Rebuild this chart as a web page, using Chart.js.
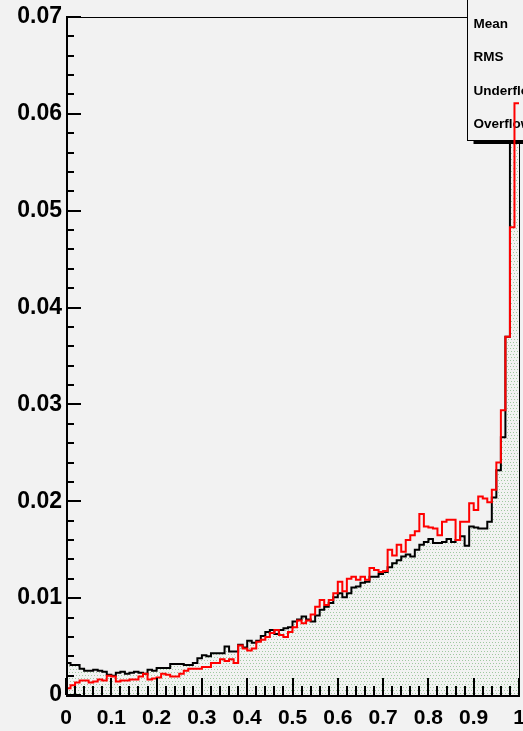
<!DOCTYPE html>
<html>
<head>
<meta charset="utf-8">
<script src="https://cdn.jsdelivr.net/npm/chart.js@4.4.1/dist/chart.umd.min.js"></script>
<style>
  html, body { margin: 0; padding: 0; background: #f2f2f2; }
  canvas { display: block; }
</style>
</head>
<body>
<canvas id="hist" width="523" height="731"></canvas>
<script>
// 100 equal bins on [0, 1]
const nBins = 100;
const binEdges = Array.from({ length: nBins + 1 }, (_, k) => k / nBins);

// Normalised bin contents, black (filled) histogram
const blackContents = [
  0.0033, 0.0031, 0.0031, 0.0027, 0.0025, 0.0025, 0.0026, 0.0025, 0.0024, 0.0021,
  0.0020, 0.0023, 0.0024, 0.0022, 0.0023, 0.0024, 0.0023, 0.0022, 0.0026, 0.0025,
  0.0028, 0.0028, 0.0028, 0.0032, 0.0032, 0.0032, 0.0031, 0.0031, 0.0033, 0.0038,
  0.0041, 0.0040, 0.0043, 0.0043, 0.0043, 0.0050, 0.0045, 0.0045, 0.0052, 0.0049,
  0.0056, 0.0054, 0.0056, 0.0061, 0.0065, 0.0067, 0.0063, 0.0067, 0.0069, 0.0070,
  0.0076, 0.0078, 0.0081, 0.0078, 0.0076, 0.0082, 0.0088, 0.0091, 0.0095, 0.0101,
  0.0105, 0.0101, 0.0105, 0.0111, 0.0112, 0.0116, 0.0117, 0.0122, 0.0122, 0.0125,
  0.0127, 0.0132, 0.0136, 0.0139, 0.0143, 0.0145, 0.0143, 0.0150, 0.0155, 0.0158,
  0.0161, 0.0157, 0.0157, 0.0158, 0.0161, 0.0158, 0.0160, 0.0164, 0.0154, 0.0174,
  0.0173, 0.0172, 0.0172, 0.0179, 0.0204, 0.0232, 0.0266, 0.0370, 0.0800, 0.0900
];

// Normalised bin contents, red histogram
const redContents = [
  0.0007, 0.0010, 0.0013, 0.0015, 0.0015, 0.0013, 0.0014, 0.0016, 0.0015, 0.0020,
  0.0019, 0.0014, 0.0015, 0.0015, 0.0016, 0.0016, 0.0019, 0.0022, 0.0016, 0.0017,
  0.0018, 0.0022, 0.0021, 0.0019, 0.0019, 0.0022, 0.0025, 0.0027, 0.0027, 0.0027,
  0.0029, 0.0029, 0.0033, 0.0033, 0.0037, 0.0035, 0.0037, 0.0033, 0.0051, 0.0048,
  0.0046, 0.0048, 0.0055, 0.0057, 0.0060, 0.0064, 0.0067, 0.0062, 0.0060, 0.0065,
  0.0070, 0.0077, 0.0074, 0.0077, 0.0083, 0.0091, 0.0098, 0.0093, 0.0098, 0.0105,
  0.0117, 0.0107, 0.0120, 0.0122, 0.0119, 0.0122, 0.0119, 0.0131, 0.0129, 0.0127,
  0.0128, 0.0150, 0.0144, 0.0155, 0.0148, 0.0160, 0.0165, 0.0169, 0.0187, 0.0174,
  0.0173, 0.0172, 0.0165, 0.0179, 0.0181, 0.0181, 0.0160, 0.0179, 0.0179, 0.0198,
  0.0191, 0.0205, 0.0203, 0.0199, 0.0212, 0.0240, 0.0294, 0.0370, 0.0483, 0.0611
];

// Axis tick values and their printed labels
const xTickValues = [0, 0.1, 0.2, 0.3, 0.4, 0.5, 0.6, 0.7, 0.8, 0.9, 1];
const xTickLabels = ['0', '0.1', '0.2', '0.3', '0.4', '0.5', '0.6', '0.7', '0.8', '0.9', '1'];
const yTickValues = [0, 0.01, 0.02, 0.03, 0.04, 0.05, 0.06, 0.07];
const yTickLabels = ['0', '0.01', '0.02', '0.03', '0.04', '0.05', '0.06', '0.07'];

// Statistics box entries
const statLabels = ['Mean', 'RMS', 'Underflow', 'Overflow'];

// Turn bin contents into step points at the low edge of each bin,
// closing with the upper edge of the last bin.
function stepPoints(contents) {
  const pts = contents.map((v, k) => ({ x: binEdges[k], y: v }));
  pts.push({ x: binEdges[nBins], y: contents[nBins - 1] });
  return pts;
}

// Sparse dotted fill used under the black histogram
function dotPattern() {
  const c = document.createElement('canvas');
  c.width = 6; c.height = 6;
  const g = c.getContext('2d');
  g.fillStyle = 'rgba(80,160,80,0.5)';
  [[0, 0], [3, 0], [1, 3], [4, 3]].forEach(([px, py]) => g.fillRect(px, py, 1, 1));
  return g.createPattern(c, 'repeat');
}

const FONT = '"Liberation Sans", Arial, Helvetica, sans-serif';

function drawStatBox(ctx) {
  // statistics box, running past the top and right canvas edges
  const bx = 467.5, by = -5, bw = 80, bh = 145.5;
  ctx.save();
  ctx.fillStyle = '#f2f2f2';
  ctx.fillRect(bx, by, bw, bh);
  ctx.strokeStyle = '#000';
  ctx.lineWidth = 1;
  ctx.strokeRect(bx, by, bw, bh);
  ctx.fillStyle = '#000';
  ctx.fillRect(bx + 6, by + bh + 0.5, bw, 3);
  ctx.font = 'bold 13.5px ' + FONT;
  ctx.textBaseline = 'alphabetic';
  ctx.textAlign = 'left';
  statLabels.forEach((t, i) => ctx.fillText(t, 473.5, 27.5 + i * 33.6));
  ctx.restore();
}

// Canvas background, frame, axes with inward ticks and the statistics box
const frameAndStats = {
  id: 'frameAndStats',
  beforeDraw(chart) {
    const ctx = chart.ctx;
    ctx.save();
    ctx.fillStyle = '#f2f2f2';
    ctx.fillRect(0, 0, chart.width, chart.height);
    ctx.restore();
  },
  // the box sits above the black histogram but below the red one
  beforeDatasetDraw(chart, args) {
    if (chart.data.datasets[args.index].label === 'red') drawStatBox(chart.ctx);
  },
  afterDatasetsDraw(chart) {
    const { ctx, chartArea: a, scales } = chart;
    const xs = scales.x, ys = scales.y;
    ctx.save();
    ctx.strokeStyle = '#000';

    // frame top (up to the box) and right
    ctx.lineWidth = 1;
    ctx.beginPath();
    ctx.moveTo(a.left, a.top + 0.5);
    ctx.lineTo(467.5, a.top + 0.5);
    ctx.moveTo(a.right + 0.5, 144);
    ctx.lineTo(a.right + 0.5, a.bottom);
    ctx.stroke();

    // axis lines
    ctx.lineWidth = 2;
    ctx.beginPath();
    ctx.moveTo(a.left + 1, a.top);
    ctx.lineTo(a.left + 1, a.bottom + 2);
    ctx.moveTo(a.left, a.bottom + 1);
    ctx.lineTo(a.right + 1, a.bottom + 1);
    ctx.stroke();

    // y ticks: majors at labelled values, four minors in between
    ctx.lineWidth = 2;
    ctx.beginPath();
    for (let i = 0; i < yTickValues.length; i++) {
      const v0 = yTickValues[i];
      const y = Math.round(ys.getPixelForValue(v0));
      ctx.moveTo(a.left, y); ctx.lineTo(a.left + 15, y);
      if (i + 1 < yTickValues.length) {
        const step = (yTickValues[i + 1] - v0) / 5;
        for (let m = 1; m < 5; m++) {
          const ym = Math.round(ys.getPixelForValue(v0 + m * step));
          ctx.moveTo(a.left, ym); ctx.lineTo(a.left + 8, ym);
        }
      }
    }
    // x ticks
    for (let i = 0; i < xTickValues.length; i++) {
      const v0 = xTickValues[i];
      const x = Math.round(xs.getPixelForValue(v0));
      ctx.moveTo(x, a.bottom); ctx.lineTo(x, a.bottom - 17);
      if (i + 1 < xTickValues.length) {
        const step = (xTickValues[i + 1] - v0) / 5;
        for (let m = 1; m < 5; m++) {
          const xm = Math.round(xs.getPixelForValue(v0 + m * step));
          ctx.moveTo(xm, a.bottom); ctx.lineTo(xm, a.bottom - 9);
        }
      }
    }
    ctx.stroke();
    ctx.restore();
  }
};

const ctx = document.getElementById('hist').getContext('2d');
new Chart(ctx, {
  type: 'line',
  data: {
    datasets: [
      {
        label: 'black',
        data: stepPoints(blackContents),
        stepped: true,
        borderColor: '#000000',
        borderWidth: 2,
        backgroundColor: dotPattern(),
        fill: 'origin',
        pointRadius: 0,
        order: 2
      },
      {
        label: 'red',
        data: stepPoints(redContents),
        stepped: true,
        borderColor: '#ff0000',
        borderWidth: 2,
        fill: false,
        pointRadius: 0,
        order: 1
      }
    ]
  },
  options: {
    responsive: false,
    animation: false,
    devicePixelRatio: 1,
    layout: { padding: { top: 17, right: 4, left: 0, bottom: 0 } },
    plugins: { legend: { display: false }, tooltip: { enabled: false } },
    scales: {
      x: {
        type: 'linear',
        min: 0,
        max: 1,
        grid: { display: false, drawTicks: false },
        border: { display: false },
        afterBuildTicks: s => { s.ticks = xTickValues.map(v => ({ value: v })); },
        afterFit: s => { s.height = 36; s.paddingLeft = 0; s.paddingRight = 0; },
        ticks: {
          autoSkip: false,
          maxRotation: 0,
          padding: 11,
          color: '#000',
          font: { family: FONT, size: 21, weight: 'bold' },
          callback: (v, i) => xTickLabels[i]
        }
      },
      y: {
        min: 0,
        max: 0.07,
        grid: { display: false, drawTicks: false },
        border: { display: false },
        afterBuildTicks: s => { s.ticks = yTickValues.map(v => ({ value: v })); },
        afterFit: s => { s.width = 66; s.paddingTop = 0; s.paddingBottom = 0; },
        ticks: {
          padding: 4,
          color: '#000',
          font: { family: FONT, size: 23, weight: 'bold' },
          callback: (v, i) => yTickLabels[i]
        }
      }
    }
  },
  plugins: [frameAndStats]
});
</script>
</body>
</html>
